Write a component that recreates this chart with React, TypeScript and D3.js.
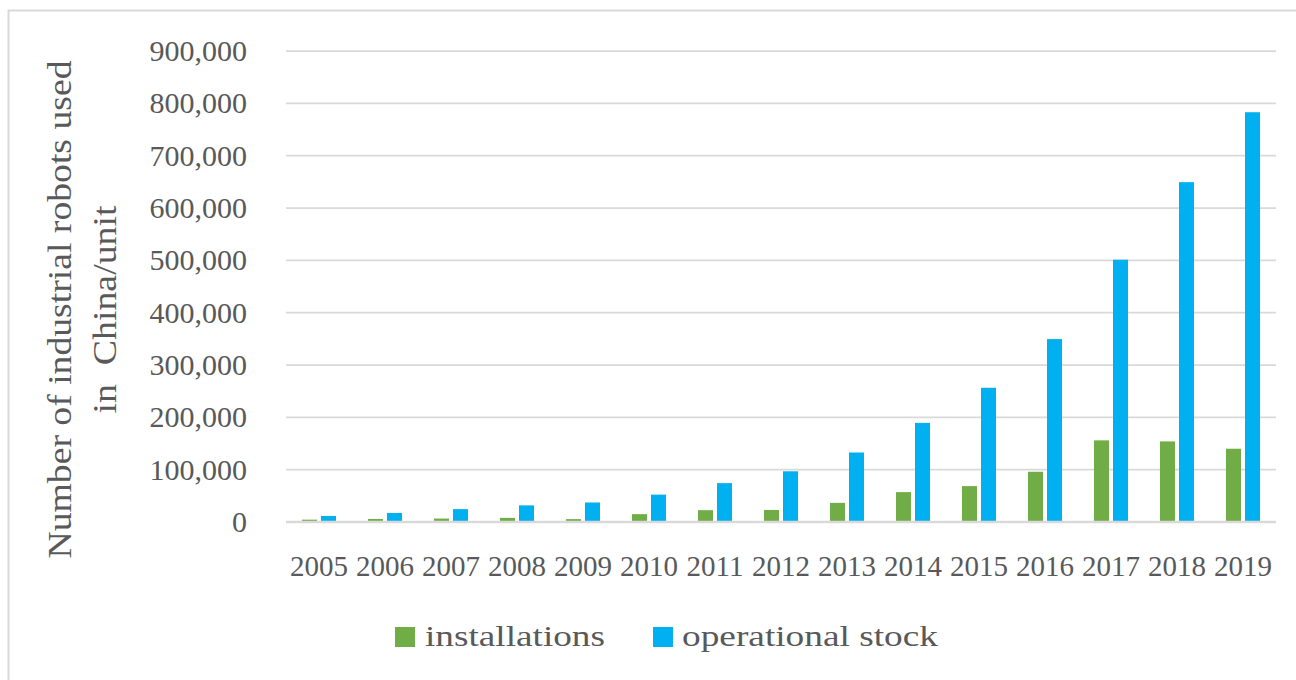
import React, { useRef, useEffect } from "react";
import * as d3 from "d3";

const width = 1296;
const height = 680;

const years = ["2005", "2006", "2007", "2008", "2009", "2010", "2011", "2012", "2013", "2014", "2015", "2016", "2017", "2018", "2019"];
const installations = [4500, 5800, 6600, 7900, 5500, 15000, 22600, 23000, 36600, 57100, 68600, 96000, 156000, 154000, 140000];
const operationalStock = [11600, 17300, 24600, 31800, 37300, 52300, 74300, 96900, 132800, 189400, 256500, 349500, 501200, 649400, 783000];
const yTicks = [0, 100000, 200000, 300000, 400000, 500000, 600000, 700000, 800000, 900000];
const seriesNames = ["installations", "operational stock"];
const seriesColors = ["#70ad47", "#00b0f0"];

const font = "'Liberation Serif', 'Times New Roman', serif";
const textColor = "#595959";

export default function App() {
  const ref = useRef<SVGSVGElement | null>(null);

  useEffect(() => {
    const svg = d3.select(ref.current);
    svg.selectAll("*").remove();

    const x0 = d3.scaleBand().domain(years).range([286, 1276]).padding(0);
    const x1 = d3
      .scaleBand()
      .domain(seriesNames)
      .range([0, x0.bandwidth()])
      .paddingInner(0.21)
      .paddingOuter(0.84);
    const y = d3.scaleLinear().domain([0, 900000]).range([522, 51]);
    const color = d3.scaleOrdinal<string>().domain(seriesNames).range(seriesColors);

    // chart border (right/bottom edges fall outside the picture)
    svg
      .append("rect")
      .attr("x", 8.5)
      .attr("y", 10.5)
      .attr("width", 1300)
      .attr("height", 700)
      .attr("fill", "none")
      .attr("stroke", "#d9d9d9")
      .attr("stroke-width", 2);

    // grid lines
    svg
      .selectAll("line.grid")
      .data(yTicks.filter((t) => t > 0))
      .enter()
      .append("line")
      .attr("class", "grid")
      .attr("x1", 286)
      .attr("x2", 1276)
      .attr("y1", (d) => y(d))
      .attr("y2", (d) => y(d))
      .attr("stroke", "#d9d9d9")
      .attr("stroke-width", 1.75);

    // y tick labels
    svg
      .selectAll("text.ytick")
      .data(yTicks)
      .enter()
      .append("text")
      .attr("class", "ytick")
      .attr("x", 247)
      .attr("y", (d) => y(d) + 10)
      .attr("text-anchor", "end")
      .attr("font-family", font)
      .attr("font-size", 30)
      .attr("fill", textColor)
      .text((d) => d3.format(",")(d));

    // bars
    const rows = years.map((yr, i) => ({
      year: yr,
      values: [
        { key: seriesNames[0], value: installations[i] },
        { key: seriesNames[1], value: operationalStock[i] },
      ],
    }));

    svg
      .append("g")
      .selectAll("g")
      .data(rows)
      .enter()
      .append("g")
      .attr("transform", (d) => `translate(${x0(d.year)},0)`)
      .selectAll("rect")
      .data((d) => d.values)
      .enter()
      .append("rect")
      .attr("x", (d) => x1(d.key)!)
      .attr("y", (d) => y(d.value))
      .attr("width", x1.bandwidth())
      .attr("height", (d) => y(0) - y(d.value))
      .attr("fill", (d) => color(d.key));

    // baseline
    svg
      .append("line")
      .attr("x1", 286)
      .attr("x2", 1276)
      .attr("y1", y(0))
      .attr("y2", y(0))
      .attr("stroke", "#d9d9d9")
      .attr("stroke-width", 2.5);

    // x labels
    svg
      .selectAll("text.xlab")
      .data(years)
      .enter()
      .append("text")
      .attr("class", "xlab")
      .attr("x", (d) => x0(d)! + x0.bandwidth() / 2)
      .attr("y", 576)
      .attr("text-anchor", "middle")
      .attr("font-family", font)
      .attr("font-size", 29)
      .attr("fill", textColor)
      .text((d) => d);

    // y axis title, two lines
    const titleLines = [
      { text: "Number of industrial robots used", x: 70.5, len: 498 },
      { text: "in  China/unit", x: 116, len: 208 },
    ];
    svg
      .selectAll("text.ytitle")
      .data(titleLines)
      .enter()
      .append("text")
      .attr("class", "ytitle")
      .attr("transform", (d) => `translate(${d.x},309.5) rotate(-90)`)
      .attr("text-anchor", "middle")
      .attr("font-family", font)
      .attr("font-size", 33)
      .attr("fill", textColor)
      .attr("textLength", (d) => d.len)
      .attr("lengthAdjust", "spacingAndGlyphs")
      .style("white-space", "pre")
      .text((d) => d.text);

    // legend
    const legend = [
      { name: seriesNames[0], sx: 395, tx: 425, len: 180 },
      { name: seriesNames[1], sx: 653, tx: 682, len: 256 },
    ];
    const lg = svg.append("g").selectAll("g").data(legend).enter().append("g");
    lg.append("rect")
      .attr("x", (d) => d.sx)
      .attr("y", 627)
      .attr("width", 20)
      .attr("height", 20)
      .attr("fill", (d) => color(d.name));
    lg.append("text")
      .attr("x", (d) => d.tx)
      .attr("y", 646)
      .attr("font-family", font)
      .attr("font-size", 30)
      .attr("fill", textColor)
      .attr("textLength", (d) => d.len)
      .attr("lengthAdjust", "spacingAndGlyphs")
      .text((d) => d.name);
  }, []);

  return (
    <svg
      ref={ref}
      width={width}
      height={height}
      style={{ position: "absolute", left: 0, top: 0, background: "#fff" }}
    />
  );
}
